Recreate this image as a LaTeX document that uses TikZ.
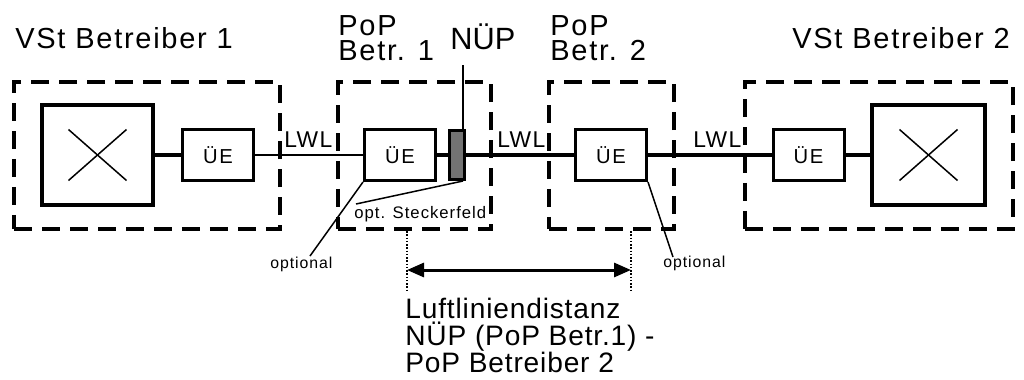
\documentclass[tikz,border=0pt]{standalone}
\usepackage{fontspec}
\setmainfont{Liberation Sans}
\usetikzlibrary{arrows.meta}
\newcommand{\spaced}[1]{\addfontfeature{LetterSpace=#1}}

\begin{document}
\begin{tikzpicture}[x=0.02cm,y=-0.02cm,
    grp/.style={draw,line width=0.08cm,dash pattern=on 0.36cm off 0.2cm,minimum height=2.94cm,inner sep=0},
    vst/.style={draw,line width=0.07cm,minimum height=2cm,inner sep=0},
    ue/.style={draw,line width=0.06cm,minimum width=1.42cm,minimum height=1.02cm,inner sep=0,font=\fontsize{11.5}{13}\selectfont\spaced{8}},
    stk/.style={draw,line width=0.06cm,fill=black!55,minimum width=0.3cm,minimum height=0.98cm,inner sep=0},
    ttl/.style={inner sep=0,font=\fontsize{16.5}{14.5}\selectfont\spaced{6}},
    lwl/.style={inner sep=0,anchor=base west,font=\fontsize{13}{15}\selectfont\spaced{6}},
    klein/.style={inner sep=0,anchor=base west,font=\fontsize{9.5}{11}\selectfont\spaced{6}},
    fat/.style={line width=0.085cm},
    lwlline/.style={line width=0.05cm},
    lead/.style={line width=0.03cm},
    kreuz/.style={line width=0.03cm},
    tick/.style={line width=0.03cm,densely dotted},
  ]
  \useasboundingbox (0,0) rectangle (1024,379);
  % Standorte
  \node[grp,minimum width=5.32cm] (vst1) at (147,155.5) {};
  \node[grp,minimum width=3.06cm] (pop1) at (414.5,155.5) {};
  \node[grp,minimum width=2.5cm] (pop2) at (611.5,155.5) {};
  \node[grp,minimum width=5.36cm] (vst2) at (879,155.5) {};
  % Vermittlungen und Uebertragungseinrichtungen
  \node[vst,minimum width=2.22cm] (sw1) at (97.5,155) {};
  \node[vst,minimum width=2.26cm] (sw2) at (928.5,155) {};
  \node[ue] (ue1) at (218,155) {ÜE};
  \node[ue] (ue2) at (400,155) {ÜE};
  \node[ue] (ue3) at (611,155) {ÜE};
  \node[ue] (ue4) at (808.5,155) {ÜE};
  \node[stk] (stf) at (457,155) {};
  \foreach \s in {sw1,sw2}{
    \draw[kreuz] ([shift={(-29,-25.5)}]\s.center) -- ([shift={(29,25.5)}]\s.center);
    \draw[kreuz] ([shift={(-29,25.5)}]\s.center) -- ([shift={(29,-25.5)}]\s.center);
  }
  % Leitungen
  \draw[fat] (sw1) -- (ue1);
  \draw[lwlline] (ue1) -- (ue2);
  \draw[fat] (ue2) -- (stf);
  \draw[fat] (stf) -- (ue3);
  \draw[fat] (ue3) -- (ue4);
  \draw[fat] (ue4) -- (sw2);
  % Beschriftung
  \node[ttl,anchor=base west] (t1) at (15,48) {VSt Betreiber 1};
  \node[ttl,anchor=base west] (t4) at (792,48) {VSt Betreiber 2};
  \node[ttl,anchor=north west,align=left] (t2) at (338,15) {PoP\\Betr. 1};
  \node[ttl,anchor=north west,align=left] (t3) at (550,15) {PoP\\Betr. 2};
  \node[inner sep=0,anchor=base west,font=\fontsize{17.5}{20}\selectfont] (nuep) at (450,49) {NÜP};
  \coordinate (nuepline) at (463,65);
  \draw[lwlline] (nuepline) -- (nuepline |- stf.north);
  \node[lwl] (l1) at (284,147) {LWL};
  \node[lwl] (l2) at (497,147) {LWL};
  \node[lwl] (l3) at (693,147) {LWL};
  \node[klein] (opt) at (354,218) {opt. Steckerfeld};
  \node[klein,font=\fontsize{9}{11}\selectfont\spaced{6}] (o1) at (270,268) {optional};
  \node[klein,font=\fontsize{9}{11}\selectfont\spaced{6}] (o2) at (663,267) {optional};
  \coordinate (e1) at (310,256);
  \coordinate (e2) at (673,257);
  \coordinate (e3) at (356,204);
  \draw[lead] (ue2.south west) -- (e1);
  \draw[lead] (ue3.south east) -- (e2);
  \draw[lead] ([xshift=0.12cm]stf.south) -- (e3);
  % Luftliniendistanz
  \coordinate (m1) at (407,231);
  \coordinate (m2) at (631,231);
  \draw[tick] (m1) -- ++(0,59);
  \draw[tick] (m2) -- ++(0,59);
  \coordinate (a1) at (407,270);
  \coordinate (a2) at (631,270);
  \draw[line width=0.06cm,{Triangle[length=0.34cm,width=0.28cm]}-{Triangle[length=0.34cm,width=0.28cm]}] (a1) -- (a2);
  \node[anchor=north west,inner sep=0,align=left,font=\fontsize{16}{15.3}\selectfont\spaced{3}] (dist) at (405,298) {Luftliniendistanz\\NÜP (PoP Betr.1) -\\PoP Betreiber 2};
\end{tikzpicture}
\end{document}
